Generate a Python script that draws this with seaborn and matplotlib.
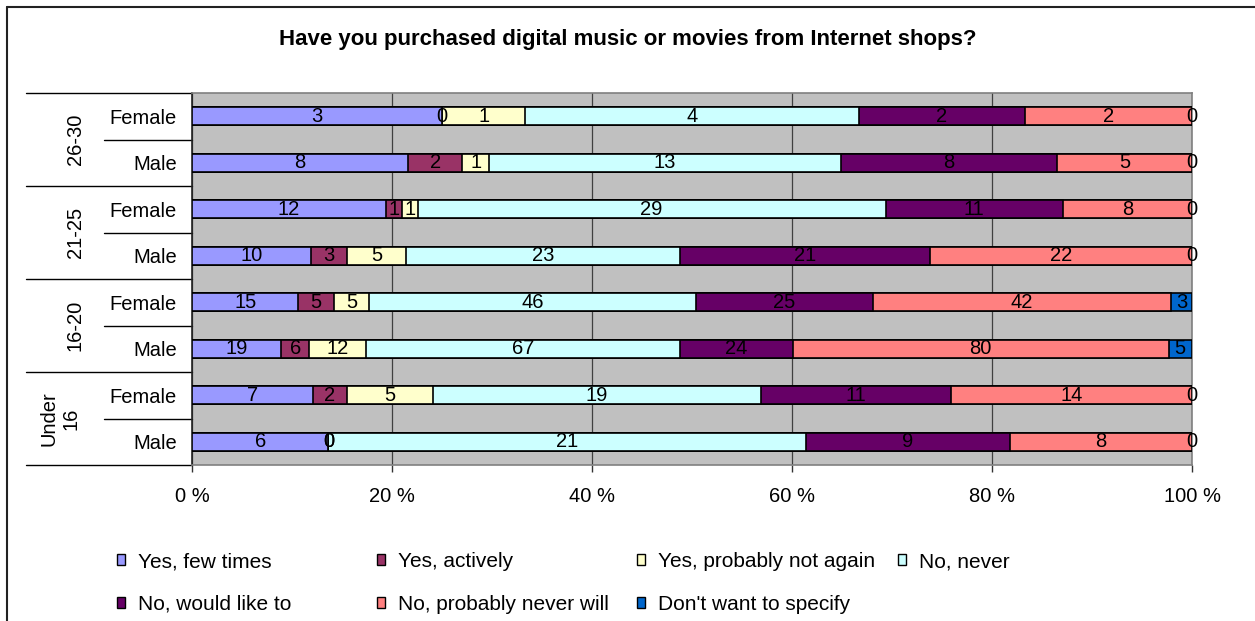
import numpy as np
import pandas as pd
import matplotlib
matplotlib.use("Agg")
import matplotlib.pyplot as plt
import matplotlib.transforms as mtransforms
from matplotlib.lines import Line2D
from matplotlib.patches import Patch
import seaborn as sns

# ---- data -------------------------------------------------------------
groups = ["26-30", "21-25", "16-20", "Under\n16"]
genders = ["Female", "Male"]
answers = [
    "Yes, few times",
    "Yes, actively",
    "Yes, probably not again",
    "No, never",
    "No, would like to",
    "No, probably never will",
    "Don't want to specify",
]
colors = ["#9999FF", "#993366", "#FFFFCC", "#CCFFFF", "#660066", "#FF8080", "#0066CC"]

# counts per row (top to bottom), one column per answer
yes_few = [3, 8, 12, 10, 15, 19, 7, 6]
yes_active = [0, 2, 1, 3, 5, 6, 2, 0]
yes_not_again = [1, 1, 1, 5, 5, 12, 5, 0]
no_never = [4, 13, 29, 23, 46, 67, 19, 21]
no_would_like = [2, 8, 11, 21, 25, 24, 11, 9]
no_never_will = [2, 5, 8, 22, 42, 80, 14, 8]
dont_specify = [0, 0, 0, 0, 3, 5, 0, 0]

series = [yes_few, yes_active, yes_not_again, no_never,
          no_would_like, no_never_will, dont_specify]

row_keys = [f"{g.replace(chr(10), ' ')} {s}" for g in groups for s in genders]
counts = np.array(series, dtype=float).T          # rows x answers
pct = counts / counts.sum(axis=1, keepdims=True) * 100
cum = np.cumsum(pct, axis=1)

df = pd.DataFrame(cum, columns=answers)
df["row"] = row_keys

# ---- figure -----------------------------------------------------------
sns.set_theme(style="white")
plt.rcParams["font.family"] = ["Liberation Sans", "DejaVu Sans"]
plt.rcParams["text.color"] = "black"
plt.rcParams["xtick.labelcolor"] = "black"
plt.rcParams["ytick.labelcolor"] = "black"

W, H = 1255, 621
fig = plt.figure(figsize=(W / 100, H / 100), dpi=100)
fig.patch.set_facecolor("white")
ax = fig.add_axes([192 / W, 1 - 465 / H, 1000 / W, 372 / H])
ax.set_facecolor("#C0C0C0")

# stacked bars: draw cumulative totals from the longest down
for i in range(len(answers) - 1, -1, -1):
    sns.barplot(data=df, x=answers[i], y="row", order=row_keys, orient="h",
                color=colors[i], saturation=1, width=0.39, errorbar=None,
                edgecolor="black", linewidth=1.2, ax=ax, zorder=3)

# value labels centred in each segment
for r in range(len(row_keys)):
    prev = 0.0
    for i in range(len(answers)):
        c = cum[r, i]
        ax.text((prev + c) / 2, r, f"{int(counts[r, i])}", ha="center",
                va="center", fontsize=14.5, color="black", zorder=5)
        prev = c

ax.set_xlim(0, 100)
ax.set_ylim(len(row_keys) - 0.5, -0.5)
ax.set_xlabel("")
ax.set_ylabel("")

ax.set_xticks([0, 20, 40, 60, 80, 100])
ax.set_xticklabels([f"{v} %" for v in [0, 20, 40, 60, 80, 100]], fontsize=14.5)
ax.tick_params(axis="x", direction="out", length=5, width=1, color="#333333",
               pad=11, bottom=True)
ax.grid(axis="x", color="#404040", linewidth=0.9, zorder=0)
ax.grid(axis="y", visible=False)
ax.set_axisbelow(True)

ax.set_yticks(range(len(row_keys)))
ax.set_yticklabels([s for _ in groups for s in genders], fontsize=14.5)
ax.tick_params(axis="y", length=0, pad=11)

for side in ["top", "right", "bottom"]:
    ax.spines[side].set_color("#808080")
    ax.spines[side].set_linewidth(1.2)
ax.spines["left"].set_color("#222222")
ax.spines["left"].set_linewidth(1.2)

# category separators and group labels to the left of the axis
trans = mtransforms.blended_transform_factory(ax.transAxes, ax.transData)
for k in range(len(row_keys) + 1):
    y = k - 0.5
    x0 = -0.166 if k % 2 == 0 else -0.088
    ax.add_line(Line2D([x0, 0], [y, y], transform=trans, color="black",
                       linewidth=1, clip_on=False))
for gi, g in enumerate(groups):
    xg = -0.132 if "\n" in g else -0.117
    ax.text(xg, 2 * gi + 0.5, g, transform=trans, rotation=90, ha="center",
            va="center", fontsize=14.5, multialignment="center",
            linespacing=1.2)

# title
fig.text(0.5, 1 - 39 / H, "Have you purchased digital music or movies from Internet shops?",
         ha="center", va="center", fontsize=16, fontweight="bold")

# legend: four evenly spaced columns
handles = [Patch(facecolor=c, edgecolor="black", linewidth=1) for c in colors]
col_x = [117, 377, 637, 898]
for j in range(4):
    idx = [j, j + 4] if j + 4 < len(answers) else [j]
    leg = fig.legend([handles[i] for i in idx], [answers[i] for i in idx],
                     loc="upper left", bbox_to_anchor=(col_x[j] / W, 1 - 552 / H),
                     frameon=False, fontsize=15, handlelength=0.4,
                     handleheight=0.4, handletextpad=0.6, labelspacing=1.15,
                     borderpad=0, borderaxespad=0)
    for t in leg.get_texts():
        t.set_color("black")

# outer chart border
fig.add_artist(Line2D([7 / W, 1.0], [1 - 7 / H, 1 - 7 / H], color="#222222",
                      linewidth=1.5, transform=fig.transFigure))
fig.add_artist(Line2D([7 / W, 7 / W], [0, 1 - 7 / H], color="#222222",
                      linewidth=1.5, transform=fig.transFigure))

fig.savefig("out.png", dpi=100)
